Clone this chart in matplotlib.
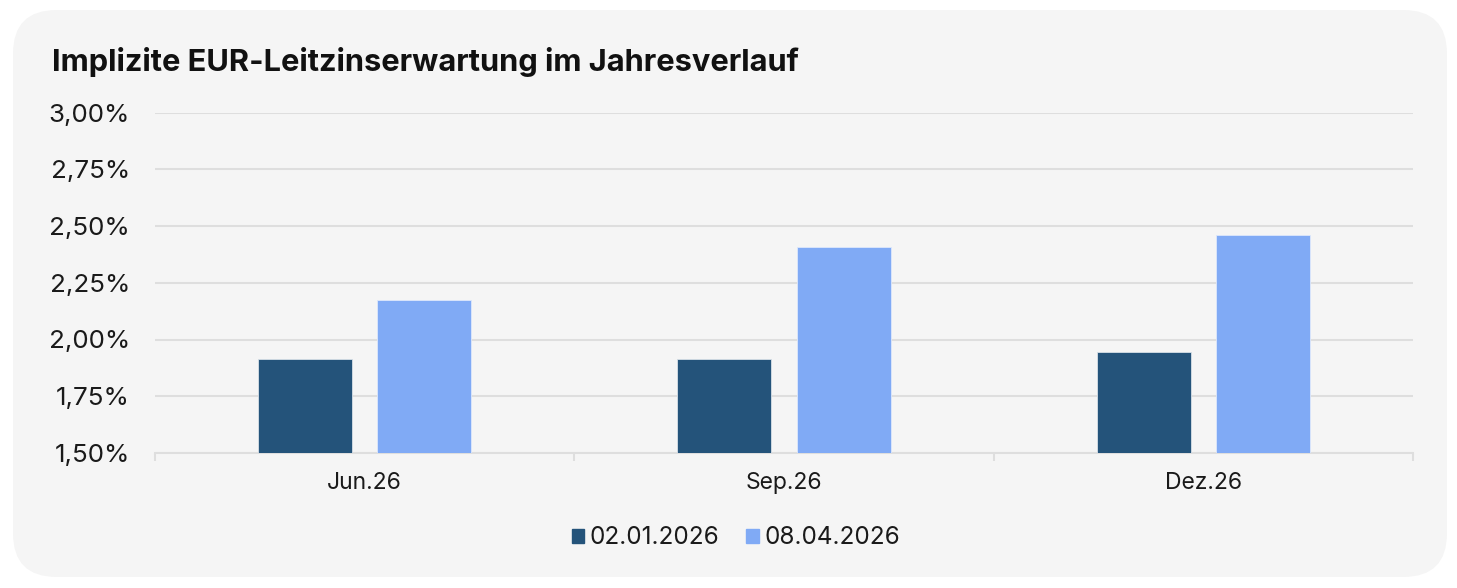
import matplotlib
matplotlib.use("Agg")
import matplotlib.pyplot as plt
from matplotlib.patches import FancyBboxPatch, Rectangle
from matplotlib.ticker import FixedLocator, FuncFormatter
import numpy as np

plt.rcParams['font.family'] = ['Inter', 'DejaVu Sans']

categories = ["Jun.26", "Sep.26", "Dez.26"]
series_names = ["02.01.2026", "08.04.2026"]
values_0201 = [1.913, 1.916, 1.944]
values_0804 = [2.172, 2.406, 2.459]
y_ticks = [1.50, 1.75, 2.00, 2.25, 2.50, 2.75, 3.00]

c_dark = "#24537a"
c_light = "#80aaf5"
bg = "#f5f5f5"
grid_c = "#dedede"
text_c = "#1a1a1a"

W, H = 1457, 588
fig = plt.figure(figsize=(W/100, H/100), dpi=100)
fig.patch.set_facecolor("white")

panel = FancyBboxPatch((13/W, 1 - 577/H), (1447-13)/W, (577-10)/H,
                       boxstyle="round,pad=0,rounding_size=0.03",
                       transform=fig.transFigure, facecolor=bg, edgecolor="none",
                       mutation_aspect=W/H, zorder=-5)
fig.patches.append(panel)

ax = fig.add_axes([155/W, 1 - 453/H, (1413-155)/W, (453-112.5)/H])
ax.set_facecolor("none")
ax.set_zorder(2)

x = np.arange(len(categories))
bw = 0.224
off = 0.142
ax.bar(x - off, values_0201, bw, color=c_dark, edgecolor="#d8e0e8", linewidth=0.6, zorder=3, label=series_names[0])
ax.bar(x + off, values_0804, bw, color=c_light, edgecolor="#dde8fb", linewidth=0.6, zorder=3, label=series_names[1])

ax.set_ylim(1.5, 3.0)
ax.set_xlim(-0.5, len(categories) - 0.5)
ax.yaxis.set_major_locator(FixedLocator(y_ticks))
ax.yaxis.set_major_formatter(FuncFormatter(lambda v, p: f"{v:.2f}".replace(".", ",") + "%"))
ax.grid(axis="y", color=grid_c, linewidth=1.5, zorder=0)
ax.set_axisbelow(True)

for s in ["top", "right", "left"]:
    ax.spines[s].set_visible(False)
ax.spines["bottom"].set_color(grid_c)
ax.spines["bottom"].set_linewidth(1.5)

ax.set_xticks(x)
ax.set_xticklabels(categories)
ax.set_xticks(np.arange(-0.5, len(categories)), minor=True)
ax.tick_params(axis="x", which="major", length=0, pad=14, labelsize=16.5, labelcolor=text_c)
ax.tick_params(axis="x", which="minor", length=6, width=1.5, color=grid_c)
ax.tick_params(axis="y", length=0, pad=18, labelsize=18.7, labelcolor=text_c)

fig.text(52/W, 1 - 62/H, "Implizite EUR-Leitzinserwartung im Jahresverlauf",
         fontsize=22.2, fontweight="bold", color="#111111", va="center", ha="left")

handles = [Rectangle((0, 0), 1, 1, color=c_dark), Rectangle((0, 0), 1, 1, color=c_light)]
fig.legend(handles, series_names, loc="center", bbox_to_anchor=(736/W, 1 - 538/H),
           ncol=2, frameon=False, fontsize=17.5, handlelength=0.5, handleheight=0.5,
           handletextpad=0.25, columnspacing=1.1, labelcolor=text_c)

fig.savefig("out.png", dpi=100, facecolor="white")
